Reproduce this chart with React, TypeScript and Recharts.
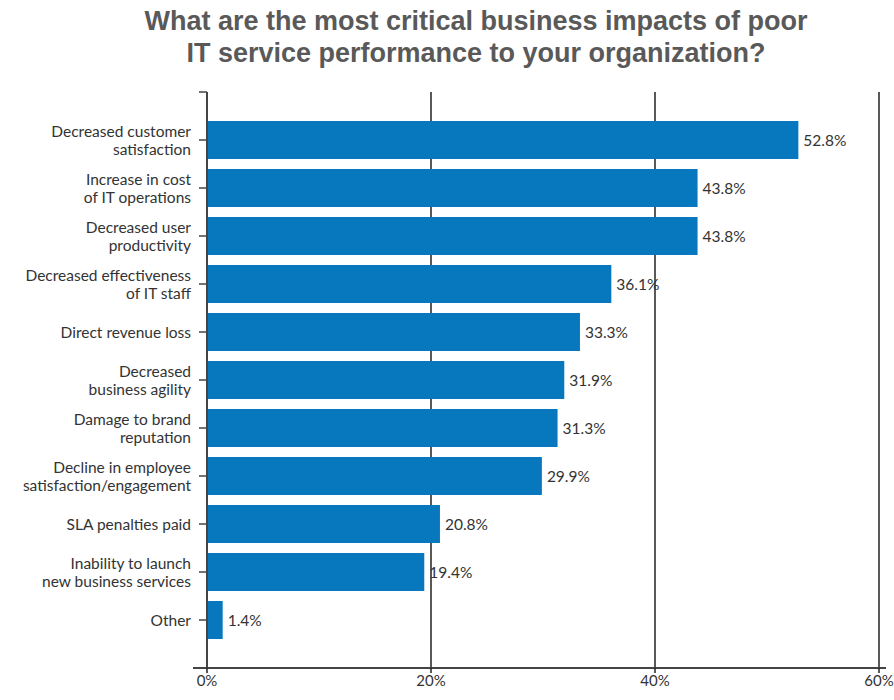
import { BarChart, Bar, XAxis, YAxis, CartesianGrid, LabelList, usePlotArea } from 'recharts';

const categories = [
  'Decreased customer\nsatisfaction',
  'Increase in cost\nof IT operations',
  'Decreased user\nproductivity',
  'Decreased effectiveness\nof IT staff',
  'Direct revenue loss',
  'Decreased\nbusiness agility',
  'Damage to brand\nreputation',
  'Decline in employee\nsatisfaction/engagement',
  'SLA penalties paid',
  'Inability to launch\nnew business services',
  'Other',
];
const values = [52.8, 43.8, 43.8, 36.1, 33.3, 31.9, 31.3, 29.9, 20.8, 19.4, 1.4];
const xTicks = [0, 20, 40, 60];

const data = categories.map((name, i) => ({ name, value: values[i] }));

const FONT = 'Lato, "Open Sans", sans-serif';

function CategoryTick(props: any) {
  const { x, y, payload } = props;
  const lines = String(payload.value).split('\n');
  const lh = 18;
  const start = -((lines.length - 1) * lh) / 2;
  return (
    <text x={x - 6} y={y} textAnchor="end" fill="#333" fontSize={15.5} fontFamily={FONT}>
      {lines.map((l, i) => (
        <tspan key={i} x={x - 6} dy={i === 0 ? start + 5.5 : lh}>{l}</tspan>
      ))}
    </text>
  );
}

// extended bottom axis line and the little cap at the top of the y axis
function AxisExtras() {
  const plot = usePlotArea();
  if (!plot) return null;
  const bottom = plot.y + plot.height;
  return (
    <g>
      <line x1={plot.x - 14} x2={plot.x + plot.width + 7} y1={bottom} y2={bottom} stroke="#444" strokeWidth={2} />
      <line x1={plot.x - 8} x2={plot.x} y1={plot.y} y2={plot.y} stroke="#444" strokeWidth={1.5} />
    </g>
  );
}

export default function App() {
  return (
    <div style={{ position: 'absolute', left: 0, top: 0, width: 894, height: 700, background: '#fff' }}>
      <BarChart
        width={894}
        height={700}
        data={data}
        layout="vertical"
        margin={{ top: 92, right: 15, bottom: 2, left: 0 }}
        style={{ position: 'absolute', left: 0, top: 0 }}
      >
        <CartesianGrid horizontal={false} vertical stroke="#222" strokeWidth={1.5} />
        <XAxis
          type="number"
          domain={[0, 60]}
          ticks={xTicks}
          tickFormatter={(v) => v + '%'}
          axisLine={false}
          tickLine={{ stroke: '#222', strokeWidth: 1.5 }}
          tickSize={5}
          height={30}
          tick={{ fill: '#333', fontSize: 15, fontFamily: FONT }}
        />
        <YAxis
          type="category"
          dataKey="name"
          width={207}
          padding={{ top: 24, bottom: 24 }}
          axisLine={{ stroke: '#444', strokeWidth: 2 }}
          tickLine={{ stroke: '#444', strokeWidth: 1.5 }}
          tickSize={8}
          interval={0}
          tick={<CategoryTick />}
        />
        <Bar dataKey="value" fill="#0778bd" barSize={38} isAnimationActive={false}>
          <LabelList
            dataKey="value"
            position="right"
            offset={5}
            formatter={(v: any) => v + '%'}
            fill="#333"
            fontSize={15.5}
            fontFamily={FONT}
          />
        </Bar>
        <AxisExtras />
      </BarChart>
      <div style={{
        position: 'absolute', top: 5, left: 29, width: 894, textAlign: 'center',
        fontFamily: '"Liberation Sans", Arial, sans-serif', fontWeight: 'bold', fontSize: 27,
        lineHeight: '32px', color: '#595959',
      }}>
        What are the most critical business impacts of poor<br />IT service performance to your organization?
      </div>
    </div>
  );
}
